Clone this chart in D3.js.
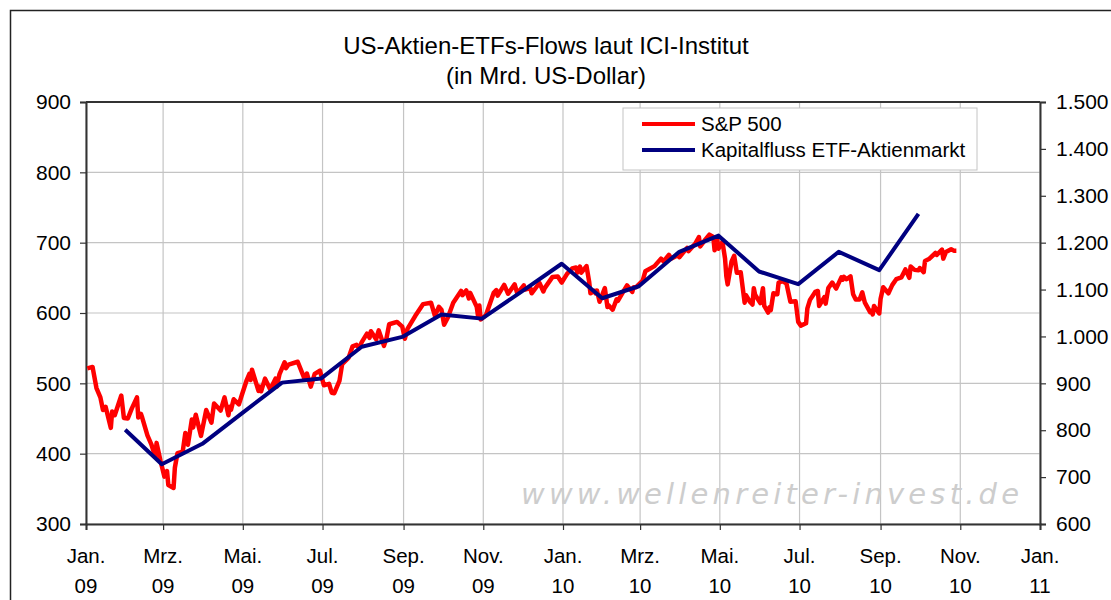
<!DOCTYPE html>
<html>
<head>
<meta charset="utf-8">
<script src="https://cdn.jsdelivr.net/npm/d3@7"></script>
<style>
  body { margin: 0; background: #fff; }
  svg { font-family: "Liberation Sans", Arial, sans-serif; }
</style>
</head>
<body>
<svg id="chart" width="1111" height="600"></svg>
<script>
"use strict";

// Titel
var titleLines = ["US-Aktien-ETFs-Flows laut ICI-Institut", "(in Mrd. US-Dollar)"];

// Achsen
var leftTicks = [300, 400, 500, 600, 700, 800, 900];
var rightTicks = [600, 700, 800, 900, 1000, 1100, 1200, 1300, 1400, 1500];
var monthTicks = ["2009-01-01", "2009-03-01", "2009-05-01", "2009-07-01", "2009-09-01", "2009-11-01",
  "2010-01-01", "2010-03-01", "2010-05-01", "2010-07-01", "2010-09-01", "2010-11-01", "2011-01-01"];
var monthNames = ["Jan.", "Mrz.", "Mai.", "Jul.", "Sep.", "Nov.",
  "Jan.", "Mrz.", "Mai.", "Jul.", "Sep.", "Nov.", "Jan."];
var yearNames = ["09", "09", "09", "09", "09", "09", "10", "10", "10", "10", "10", "10", "11"];

// Kapitalfluss ETF-Aktienmarkt (linke Achse, Monatsende)
var flowDates = ["2009-01-31", "2009-02-28", "2009-03-31", "2009-04-30", "2009-05-31", "2009-06-30",
  "2009-07-31", "2009-08-31", "2009-09-30", "2009-10-31", "2009-11-30", "2009-12-31",
  "2010-01-31", "2010-02-28", "2010-03-31", "2010-04-30", "2010-05-31", "2010-06-30",
  "2010-07-31", "2010-08-31", "2010-09-30"];
var flowValues = [434, 385, 414, 457, 501, 507, 552, 566, 598, 592, 630, 670,
  621, 638, 687, 710, 659, 641, 687, 661, 741];

// S&P 500 (rechte Achse)
var spDates = [
  "2009-01-02", "2009-01-06", "2009-01-09", "2009-01-12", "2009-01-14", "2009-01-16", "2009-01-20", "2009-01-21",
  "2009-01-23", "2009-01-28", "2009-01-30", "2009-02-02", "2009-02-05", "2009-02-09", "2009-02-10", "2009-02-12",
  "2009-02-13", "2009-02-17", "2009-02-20", "2009-02-23", "2009-02-24", "2009-02-27", "2009-03-02", "2009-03-04",
  "2009-03-05", "2009-03-09", "2009-03-10", "2009-03-12", "2009-03-16", "2009-03-18", "2009-03-20", "2009-03-23",
  "2009-03-24", "2009-03-26", "2009-03-30", "2009-04-03", "2009-04-07", "2009-04-09", "2009-04-14", "2009-04-17",
  "2009-04-20", "2009-04-21", "2009-04-22", "2009-04-24", "2009-04-28", "2009-04-30", "2009-05-04", "2009-05-06",
  "2009-05-07", "2009-05-08", "2009-05-13", "2009-05-14", "2009-05-15", "2009-05-18", "2009-05-22", "2009-05-26",
  "2009-05-27", "2009-05-29", "2009-06-02", "2009-06-03", "2009-06-05", "2009-06-12", "2009-06-17", "2009-06-19",
  "2009-06-22", "2009-06-25", "2009-06-29", "2009-07-02", "2009-07-06", "2009-07-08", "2009-07-10", "2009-07-14",
  "2009-07-16", "2009-07-21", "2009-07-24", "2009-07-27", "2009-07-29", "2009-07-31", "2009-08-04", "2009-08-06",
  "2009-08-07", "2009-08-11", "2009-08-13", "2009-08-17", "2009-08-19", "2009-08-21", "2009-08-27", "2009-08-31",
  "2009-09-02", "2009-09-04", "2009-09-10", "2009-09-16", "2009-09-22", "2009-09-25", "2009-09-28", "2009-09-30",
  "2009-10-02", "2009-10-05", "2009-10-09", "2009-10-15", "2009-10-16", "2009-10-19", "2009-10-21", "2009-10-22",
  "2009-10-27", "2009-10-28", "2009-10-29", "2009-10-30", "2009-11-03", "2009-11-06", "2009-11-09", "2009-11-11",
  "2009-11-12", "2009-11-17", "2009-11-20", "2009-11-25", "2009-11-27", "2009-12-02", "2009-12-03", "2009-12-07",
  "2009-12-08", "2009-12-14", "2009-12-17", "2009-12-18", "2009-12-24", "2009-12-28", "2009-12-31",
  "2010-01-04", "2010-01-08", "2010-01-11", "2010-01-12", "2010-01-14", "2010-01-15", "2010-01-19", "2010-01-21",
  "2010-01-22", "2010-01-25", "2010-01-26", "2010-01-27", "2010-01-29", "2010-02-02", "2010-02-04", "2010-02-05",
  "2010-02-08", "2010-02-11", "2010-02-12", "2010-02-16", "2010-02-19", "2010-02-23", "2010-02-24", "2010-02-26",
  "2010-03-03", "2010-03-05", "2010-03-12", "2010-03-17", "2010-03-19", "2010-03-23", "2010-03-25", "2010-03-30",
  "2010-03-31", "2010-04-06", "2010-04-07", "2010-04-12", "2010-04-15", "2010-04-16", "2010-04-20", "2010-04-23",
  "2010-04-26", "2010-04-27", "2010-04-29", "2010-04-30", "2010-05-03", "2010-05-05", "2010-05-06", "2010-05-07",
  "2010-05-10", "2010-05-12", "2010-05-14", "2010-05-17", "2010-05-20", "2010-05-21", "2010-05-24", "2010-05-26",
  "2010-05-27", "2010-05-28", "2010-06-01", "2010-06-03", "2010-06-04", "2010-06-07", "2010-06-08", "2010-06-09",
  "2010-06-11", "2010-06-14", "2010-06-15", "2010-06-18", "2010-06-21", "2010-06-24", "2010-06-28", "2010-06-30",
  "2010-07-02", "2010-07-06", "2010-07-07", "2010-07-09", "2010-07-13", "2010-07-15", "2010-07-16", "2010-07-20",
  "2010-07-21", "2010-07-23", "2010-07-26", "2010-07-29", "2010-08-02", "2010-08-03", "2010-08-04", "2010-08-06",
  "2010-08-09", "2010-08-11", "2010-08-13", "2010-08-16", "2010-08-18", "2010-08-20", "2010-08-24", "2010-08-25",
  "2010-08-26", "2010-08-27", "2010-08-31", "2010-09-01", "2010-09-03", "2010-09-07", "2010-09-10", "2010-09-13",
  "2010-09-17", "2010-09-20", "2010-09-23", "2010-09-24", "2010-09-27", "2010-09-30", "2010-10-01", "2010-10-04",
  "2010-10-05", "2010-10-08", "2010-10-13", "2010-10-14", "2010-10-18", "2010-10-19", "2010-10-21", "2010-10-25",
  "2010-10-27", "2010-10-29"];
var spValues = [
  932, 935, 890, 870, 843, 850, 805, 840, 832, 874, 826, 825, 846, 870, 827, 835,
  827, 789, 770, 743, 773, 735, 701, 713, 683, 677, 720, 751, 754, 794, 769, 823,
  806, 833, 788, 843, 816, 857, 842, 870, 832, 850, 844, 866, 855, 873, 907, 920,
  907, 929, 884, 893, 883, 910, 887, 910, 893, 919, 945, 932, 940, 946, 911, 921,
  893, 920, 927, 896, 899, 880, 879, 906, 941, 955, 979, 982, 975, 988, 1006, 997,
  1011, 994, 1013, 980, 997, 1026, 1031, 1021, 995, 1016, 1044, 1069, 1072, 1044, 1063, 1057,
  1025, 1041, 1072, 1097, 1088, 1098, 1081, 1093, 1063, 1043, 1066, 1036, 1045, 1069, 1093, 1099,
  1087, 1110, 1091, 1111, 1092, 1109, 1100, 1103, 1092, 1114, 1096, 1103, 1127, 1128, 1115,
  1133, 1145, 1147, 1136, 1149, 1136, 1150, 1117, 1092, 1097, 1092, 1098, 1074, 1103, 1063, 1066,
  1057, 1079, 1076, 1095, 1109, 1095, 1105, 1105, 1119, 1139, 1150, 1166, 1160, 1174, 1166, 1173,
  1169, 1189, 1182, 1197, 1212, 1192, 1207, 1217, 1212, 1184, 1207, 1187, 1202, 1166, 1128, 1111,
  1160, 1172, 1136, 1137, 1072, 1088, 1074, 1068, 1103, 1089, 1071, 1103, 1065, 1051, 1062, 1056,
  1092, 1090, 1115, 1118, 1113, 1074, 1075, 1031, 1023, 1028, 1060, 1078, 1095, 1097, 1065, 1084,
  1070, 1103, 1115, 1102, 1126, 1121, 1127, 1122, 1128, 1090, 1079, 1079, 1094, 1072, 1052, 1055,
  1047, 1065, 1049, 1080, 1105, 1092, 1110, 1122, 1126, 1143, 1125, 1149, 1142, 1141, 1146, 1137,
  1161, 1165, 1178, 1174, 1185, 1166, 1180, 1186, 1183, 1183];

var parseDate = d3.timeParse("%Y-%m-%d");

var svg = d3.select("#chart");
var plotLeft = 86, plotRight = 1040, plotTop = 102, plotBottom = 524;

// Aussenrahmen
svg.append("rect")
  .attr("x", 10.5).attr("y", 10.5)
  .attr("width", 1110).attr("height", 600)
  .attr("fill", "none")
  .attr("stroke", "#222")
  .attr("stroke-width", 1.5);

var x = d3.scaleTime()
  .domain([parseDate("2009-01-01"), parseDate("2011-01-01")])
  .range([plotLeft, plotRight]);
var yLeft = d3.scaleLinear().domain([300, 900]).range([plotBottom, plotTop]);
var yRight = d3.scaleLinear().domain([600, 1500]).range([plotBottom, plotTop]);

// Gitternetz
var grid = svg.append("g").attr("stroke", "#c4c4c4").attr("stroke-width", 1.2);
grid.selectAll("line.h")
  .data(leftTicks)
  .enter()
  .append("line")
  .attr("x1", plotLeft).attr("x2", plotRight)
  .attr("y1", function (d) { return yLeft(d); })
  .attr("y2", function (d) { return yLeft(d); });
grid.selectAll("line.v")
  .data(monthTicks)
  .enter()
  .append("line")
  .attr("x1", function (d) { return x(parseDate(d)); })
  .attr("x2", function (d) { return x(parseDate(d)); })
  .attr("y1", plotTop).attr("y2", plotBottom);

// Wasserzeichen
svg.append("text")
  .attr("x", 521).attr("y", 504)
  .attr("textLength", 498)
  .attr("lengthAdjust", "spacing")
  .style("font-family", "'DejaVu Sans', sans-serif")
  .style("font-style", "italic")
  .style("font-size", "29px")
  .attr("fill", "#cdcdcd")
  .text("www.wellenreiter-invest.de");

// Achsen
var axisLeft = svg.append("g")
  .attr("transform", "translate(" + plotLeft + ",0)")
  .call(d3.axisLeft(yLeft).tickValues(leftTicks).tickSize(6).tickPadding(9).tickFormat(d3.format("d")));
var axisRight = svg.append("g")
  .attr("transform", "translate(" + plotRight + ",0)")
  .call(d3.axisRight(yRight).tickValues(rightTicks).tickSize(6).tickPadding(10)
    .tickFormat(function (d) { return d >= 1000 ? "1." + String(d).slice(1) : String(d); }));
var axisBottom = svg.append("g")
  .attr("transform", "translate(0," + plotBottom + ")")
  .call(d3.axisBottom(x).tickValues(monthTicks.map(parseDate)).tickSize(6).tickFormat(""));

[axisLeft, axisRight, axisBottom].forEach(function (a) {
  a.select(".domain").attr("stroke", "#333").attr("stroke-width", 2);
  a.selectAll(".tick line").attr("stroke", "#333").attr("stroke-width", 1.2);
  a.selectAll("text")
    .style("font-family", "'Liberation Sans', Arial, sans-serif")
    .style("font-size", "21px")
    .attr("fill", "#000");
});

// obere Linie des Plotbereichs
svg.append("line")
  .attr("x1", plotLeft).attr("x2", plotRight)
  .attr("y1", plotTop).attr("y2", plotTop)
  .attr("stroke", "#333").attr("stroke-width", 2);

// Monatsbeschriftung zweizeilig
var labels = svg.append("g")
  .style("font-size", "20.5px")
  .attr("text-anchor", "middle");
labels.selectAll("text.m")
  .data(monthTicks)
  .enter()
  .append("text")
  .attr("x", function (d) { return x(parseDate(d)); })
  .attr("y", 563)
  .text(function (d, i) { return monthNames[i]; });
labels.selectAll("text.j")
  .data(monthTicks)
  .enter()
  .append("text")
  .attr("x", function (d) { return x(parseDate(d)); })
  .attr("y", 593)
  .text(function (d, i) { return yearNames[i]; });

// Linien
var spData = spDates.map(function (d, i) { return { date: parseDate(d), value: spValues[i] }; });
var flowData = flowDates.map(function (d, i) { return { date: parseDate(d), value: flowValues[i] }; });

svg.append("path")
  .datum(spData)
  .attr("fill", "none")
  .attr("stroke", "#ff0000")
  .attr("stroke-width", 4.5)
  .attr("stroke-linejoin", "round")
  .attr("d", d3.line()
    .x(function (d) { return x(d.date); })
    .y(function (d) { return yRight(d.value); }));

svg.append("path")
  .datum(flowData)
  .attr("fill", "none")
  .attr("stroke", "#000080")
  .attr("stroke-width", 4)
  .attr("stroke-linejoin", "round")
  .attr("d", d3.line()
    .x(function (d) { return x(d.date); })
    .y(function (d) { return yLeft(d.value); }));

// Titel
svg.append("g")
  .attr("text-anchor", "middle")
  .style("font-size", "24px")
  .selectAll("text")
  .data(titleLines)
  .enter()
  .append("text")
  .attr("x", 546)
  .attr("y", function (d, i) { return 54 + i * 30; })
  .text(function (d) { return d; });

// Legende
var legendItems = [
  { name: "S&P 500", color: "#ff0000" },
  { name: "Kapitalfluss ETF-Aktienmarkt", color: "#000080" }
];
var legend = svg.append("g")
  .attr("class", "legend")
  .attr("transform", "translate(623,108)")
  .style("font-size", "20.5px");
legend.append("rect")
  .attr("width", 354).attr("height", 62)
  .attr("fill", "#fff")
  .attr("stroke", "#c4c4c4");
legend.selectAll("line")
  .data(legendItems)
  .enter()
  .append("line")
  .attr("x1", 19).attr("x2", 72)
  .attr("y1", function (d, i) { return 16 + i * 26; })
  .attr("y2", function (d, i) { return 16 + i * 26; })
  .attr("stroke", function (d) { return d.color; })
  .attr("stroke-width", 4);
legend.selectAll("text")
  .data(legendItems)
  .enter()
  .append("text")
  .attr("x", 78)
  .attr("y", function (d, i) { return 23 + i * 26; })
  .text(function (d) { return d.name; });
</script>
</body>
</html>
